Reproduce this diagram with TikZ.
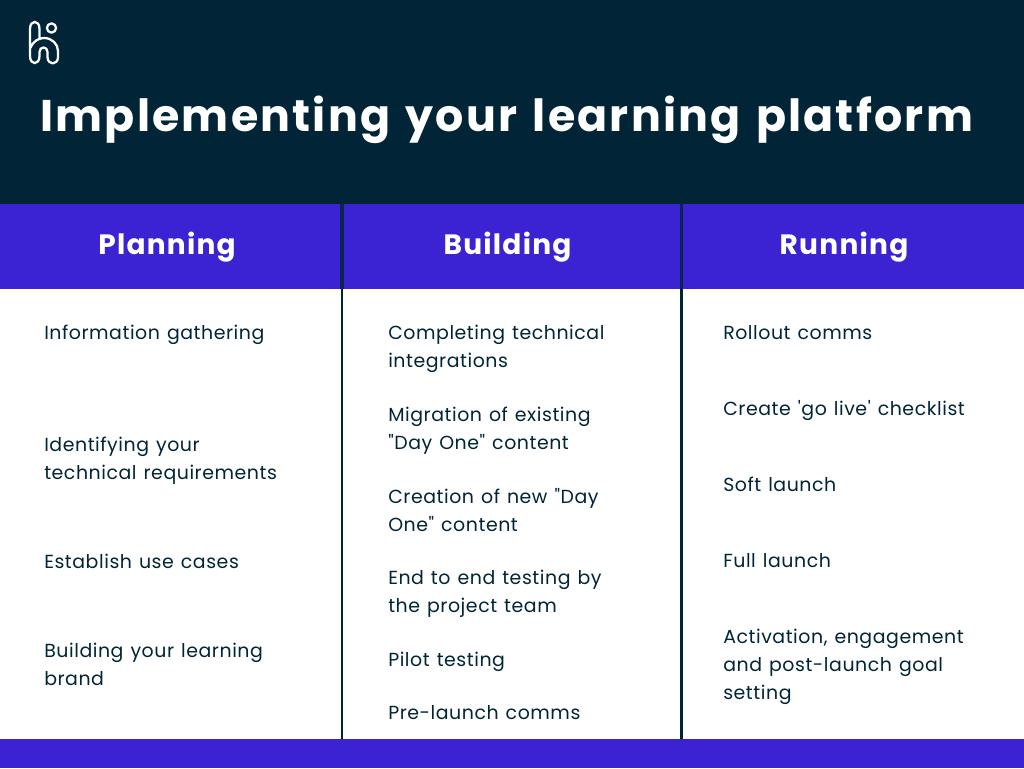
\documentclass[tikz,border=0pt]{standalone}
\usepackage{fontspec}
\setmainfont{Poppins}
\newfontfamily\titlefont[LetterSpace=5.0,WordSpace=1.32]{Poppins}
\newfontfamily\headfont[LetterSpace=4.5]{Poppins}
\newfontfamily\bodyfont[LetterSpace=2.9,WordSpace=1.25]{Poppins}
\definecolor{navy}{HTML}{012536}
\definecolor{violet}{HTML}{3B22D3}
\tikzset{
  x=0.75pt,y=-0.75pt,
  body/.style={anchor=base west,inner sep=0pt,text=navy,font=\bodyfont\fontsize{14.2pt}{21pt}\selectfont,align=left},
  head/.style={anchor=base,inner sep=0pt,text=white,font=\headfont\bfseries\fontsize{21pt}{25pt}\selectfont},
  divider/.style={draw=navy,line width=2pt},
  dividertop/.style={draw=navy!85!violet,line width=2.6pt},
}
\begin{document}
\begin{tikzpicture}
\useasboundingbox (0,0) rectangle (1024,768);
\fill[white] (0,0) rectangle (1024,768);
\fill[navy] (0,0) rectangle (1024,204);
\fill[violet] (0,204) rectangle (1024,289);
\fill[violet] (0,739) rectangle (1024,768);
\draw[dividertop] (342,204) -- (342,289);
\draw[dividertop] (681.5,204) -- (681.5,289);
\draw[divider] (342,289) -- (342,739);
\draw[divider] (681.5,289) -- (681.5,739);
% logo
\draw[white,line width=1.7pt,line join=round] (51.5,28) circle (4.6);
\draw[white,line width=1.7pt,line join=round]
  (30.5,48) .. controls (33,41) and (39,38) .. (44,38)
  .. controls (52,38) and (58,44) .. (58,51) -- (58,57)
  .. controls (58,65.5) and (47.5,65.5) .. (47.5,57) -- (47.5,52)
  .. controls (47.5,46) and (39.5,46) .. (39.5,52) -- (39.5,56)
  .. controls (39.5,65.5) and (30,65.5) .. (30,56) -- (30,29)
  .. controls (30,19.5) and (39.5,19.5) .. (39.5,29) -- (39.5,40);
\node[anchor=base west,inner sep=0pt,text=white,font=\titlefont\bfseries\fontsize{33.25pt}{40pt}\selectfont] (title) at (40,131) {Implementing your learning platform};
\node[head] (h1) at (167,254) {Planning};
\node[head] (h2) at (507.5,254) {Building};
\node[head] (h3) at (844,254) {Running};
\node[body] (p1) at (44,339.5) {Information gathering};
\node[body] (p2) at (44,479.5) {Identifying your\\technical requirements};
\node[body] (p3) at (44,568) {Establish use cases};
\node[body] (p4) at (44,685.5) {Building your learning\\brand};
\node[body] (b1) at (388,367.5) {Completing technical\\integrations};
\node[body] (b2) at (388,449.5) {Migration of existing\\"Day One" content};
\node[body] (b3) at (388,531) {Creation of new "Day\\One" content};
\node[body] (b4) at (388,612.5) {End to end testing by\\the project team};
\node[body] (b5) at (388,666) {Pilot testing};
\node[body] (b6) at (388,719) {Pre-launch comms};
\node[body] (r1) at (723,339.5) {Rollout comms};
\node[body] (r2) at (723,415) {Create 'go live' checklist};
\node[body] (r3) at (723,491) {Soft launch};
\node[body] (r4) at (723,567) {Full launch};
\node[body] (r5) at (723,699) {Activation, engagement\\and post-launch goal\\setting};
\end{tikzpicture}
\end{document}
